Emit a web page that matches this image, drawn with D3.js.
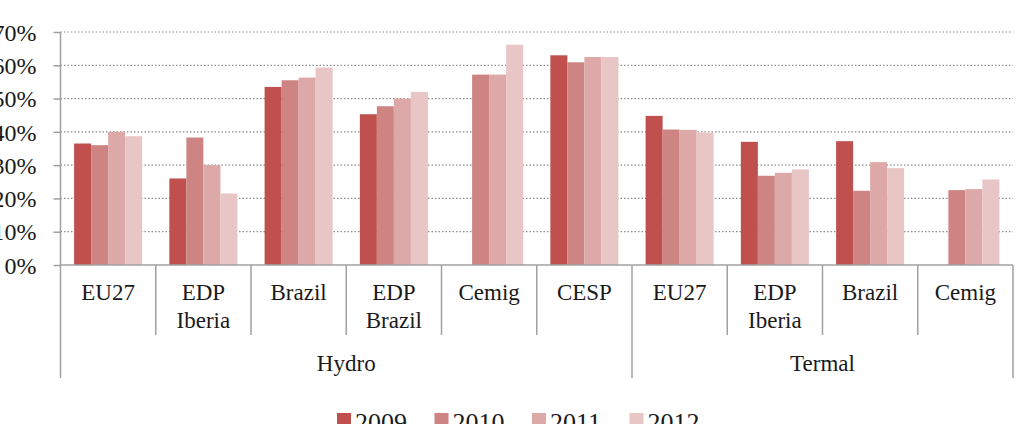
<!DOCTYPE html>
<meta charset="utf-8">
<head>
<style>
  body { margin: 0; background: #fff; font-family: "Liberation Serif", "Times New Roman", serif; }
  svg { display: block; }
  .grid line { stroke: #8c8c8c; stroke-width: 1.2; stroke-dasharray: 1.5,2; }
  .axis path, .axis line { stroke: #a0a0a0; stroke-width: 1.5; }
  text { fill: #1a1a1a; }
</style>
</head>
<body>
<div id="chart"></div>
<script src="https://cdn.jsdelivr.net/npm/d3@7"></script>
<script>
// categories (two levels) and series
var catLabels = ["EU27", "EDP|Iberia", "Brazil", "EDP|Brazil", "Cemig", "CESP", "EU27", "EDP|Iberia", "Brazil", "Cemig"];
var catGroups = ["Hydro", "Hydro", "Hydro", "Hydro", "Hydro", "Hydro", "Termal", "Termal", "Termal", "Termal"];
var groupNames = ["Hydro", "Termal"];
var years = ["2009", "2010", "2011", "2012"];
var v2009 = [36.5, 26.0, 53.5, 45.3, null, 63.0, 44.8, 37.0, 37.2, null];
var v2010 = [36.0, 38.3, 55.5, 47.7, 57.2, 60.9, 40.7, 26.8, 22.3, 22.5];
var v2011 = [40.0, 30.0, 56.3, 50.0, 57.2, 62.5, 40.6, 27.7, 30.9, 22.8];
var v2012 = [38.7, 21.5, 59.3, 52.0, 66.2, 62.5, 39.8, 28.7, 29.1, 25.7];
var yTicks = [0, 10, 20, 30, 40, 50, 60, 70];
var colors = ["#c0504d", "#cd8482", "#dca8a8", "#e8c6c6"];

var series = [v2009, v2010, v2011, v2012];

var width = 1018, height = 424;
var plotL = 60.5, plotR = 1013, plotT = 32, plotB = 265;

var svg = d3.select("#chart").append("svg")
    .attr("width", width)
    .attr("height", height);

var y = d3.scaleLinear().domain([0, 70]).range([plotB, plotT]);

var x0 = d3.scaleBand()
    .domain(d3.range(catLabels.length))
    .range([plotL, plotR])
    .paddingInner(0).paddingOuter(0);

var x1 = d3.scaleBand()
    .domain(years)
    .range([0, x0.bandwidth()])
    .paddingInner(0)
    .paddingOuter(0.8);

// gridlines
svg.append("g")
    .attr("class", "grid")
    .selectAll("line")
    .data(yTicks.filter(function (d) { return d > 0; }))
    .enter().append("line")
    .attr("x1", plotL)
    .attr("x2", plotR)
    .attr("y1", function (d) { return y(d); })
    .attr("y2", function (d) { return y(d); });

// bars
var cat = svg.selectAll("g.cat")
    .data(d3.range(catLabels.length))
    .enter().append("g")
    .attr("class", "cat")
    .attr("transform", function (i) { return "translate(" + x0(i) + ",0)"; });

cat.selectAll("rect")
    .data(function (i) {
        return years.map(function (yr, k) { return { year: yr, k: k, v: series[k][i] }; })
            .filter(function (d) { return d.v != null; });
    })
    .enter().append("rect")
    .attr("x", function (d) { return x1(d.year); })
    .attr("width", x1.bandwidth())
    .attr("y", function (d) { return y(d.v); })
    .attr("height", function (d) { return plotB - y(d.v); })
    .attr("fill", function (d) { return colors[d.k]; });

// y axis
var yAxis = svg.append("g")
    .attr("class", "axis")
    .attr("transform", "translate(" + plotL + ",0)")
    .call(d3.axisLeft(y).tickValues(yTicks).tickSize(7).tickPadding(17)
        .tickFormat(function (d) { return d + "%"; }));
yAxis.select(".domain").attr("d", "M0," + plotT + "V" + plotB);
yAxis.selectAll("text")
    .style("font-family", "Liberation Serif")
    .style("font-size", "24px")
    .attr("fill", "#1a1a1a")
    .attr("dy", "0.34em");

// x axis: baseline + category ticks + group ticks
var xa = svg.append("g").attr("class", "axis");
xa.append("line")
    .attr("x1", plotL).attr("x2", plotR)
    .attr("y1", plotB).attr("y2", plotB);

var catEdges = d3.range(catLabels.length + 1).filter(function (i) {
    return i > 0 && i < catLabels.length && catGroups[i] === catGroups[i - 1];
});
xa.selectAll("line.ct")
    .data(catEdges)
    .enter().append("line")
    .attr("class", "ct")
    .attr("x1", function (i) { return x0(i); })
    .attr("x2", function (i) { return x0(i); })
    .attr("y1", plotB).attr("y2", 335);

var groupEdges = d3.range(catLabels.length + 1).filter(function (i) {
    return i === 0 || i === catLabels.length || catGroups[i] !== catGroups[i - 1];
});
xa.selectAll("line.gt")
    .data(groupEdges)
    .enter().append("line")
    .attr("class", "gt")
    .attr("x1", function (i) { return i === catLabels.length ? plotR : x0(i); })
    .attr("x2", function (i) { return i === catLabels.length ? plotR : x0(i); })
    .attr("y1", plotB).attr("y2", 378);

// category labels
var lab = svg.selectAll("text.cl")
    .data(d3.range(catLabels.length))
    .enter().append("text")
    .attr("class", "cl")
    .attr("text-anchor", "middle")
    .style("font-size", "23px")
    .attr("transform", function (i) { return "translate(" + (x0(i) + x0.bandwidth() / 2) + ",300)"; });
lab.selectAll("tspan")
    .data(function (i) { return catLabels[i].split("|"); })
    .enter().append("tspan")
    .attr("x", 0)
    .attr("y", function (d, k) { return k * 28; })
    .text(function (d) { return d; });

// group labels
svg.selectAll("text.gl")
    .data(groupNames)
    .enter().append("text")
    .attr("class", "gl")
    .attr("text-anchor", "middle")
    .style("font-size", "23px")
    .attr("x", function (g) {
        var idx = d3.range(catLabels.length).filter(function (i) { return catGroups[i] === g; });
        return (x0(idx[0]) + x0(idx[idx.length - 1]) + x0.bandwidth()) / 2;
    })
    .attr("y", 371)
    .text(function (g) { return g; });

// legend
var leg = svg.selectAll("g.leg")
    .data(years)
    .enter().append("g")
    .attr("class", "leg")
    .attr("transform", function (d, i) { return "translate(" + (337 + i * 97.5) + ",413)"; });
leg.append("rect")
    .attr("width", 14).attr("height", 14)
    .attr("fill", function (d, i) { return colors[i]; });
leg.append("text")
    .attr("x", 18)
    .attr("y", 18)
    .style("font-size", "26px")
    .text(function (d) { return d; });
</script>
</body>
